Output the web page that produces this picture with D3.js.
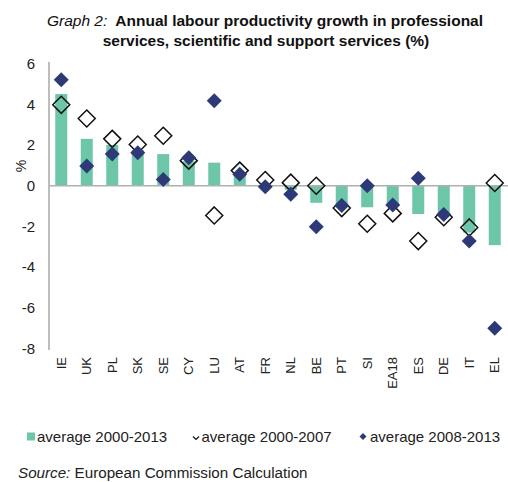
<!DOCTYPE html>
<html><head><meta charset="utf-8">
<script src="https://cdn.jsdelivr.net/npm/d3@7"></script>
<style>body{margin:0;background:#fff;}svg{display:block;font-family:"Liberation Sans",Arial,sans-serif;}</style>
</head><body><svg id="c" width="508" height="482"></svg>
<script>
const categories = ["IE","UK","PL","SK","SE","CY","LU","AT","FR","NL","BE","PT","SI","EA18","ES","DE","IT","EL"];
const avg2000_2013 = [4.5,2.3,2.0,1.75,1.55,1.2,1.13,0.6,0.05,-0.2,-0.84,-1.03,-1.06,-1.0,-1.39,-1.5,-2.3,-2.92];
const avg2000_2007 = [3.97,3.3,2.3,2.02,2.45,1.23,-1.46,0.74,0.28,0.15,0.0,-1.1,-1.87,-1.36,-2.72,-1.55,-2.05,0.13];
const avg2008_2013 = [5.2,0.97,1.55,1.62,0.3,1.37,4.17,0.56,-0.05,-0.42,-2.02,-0.97,0.0,-0.95,0.36,-1.41,-2.72,-7.0];
const yTicks = [6,4,2,0,-2,-4,-6,-8];
const seriesNames = ["average 2000-2013","average 2000-2007","average 2008-2013"];

const svg = d3.select("#c");
const x = d3.scaleBand().domain(categories).range([48.5,507.5]).paddingInner(0.53).paddingOuter(0.265);
const y = d3.scaleLinear().domain([-8,6]).range([348.6,63.5]);
const green = "#6cc6a7", navy = "#2e3a78";

// title
const t = svg.append("text").attr("x",265).attr("y",25.5).attr("text-anchor","middle").style("font-size","15.5px").style("white-space","pre").attr("fill","#111");
t.append("tspan").style("font-style","italic").text("Graph 2:");
t.append("tspan").style("font-weight","bold").text("  Annual labour productivity growth in professional");
svg.append("text").attr("x",266).attr("y",45.5).attr("text-anchor","middle").style("font-size","15.5px").style("font-weight","bold").attr("fill","#111")
  .text("services, scientific and support services (%)");

// y axis
const yAxis = d3.axisLeft(y).tickValues(yTicks).tickSize(0).tickPadding(14).tickFormat(d=>String(d));
const ga = svg.append("g").attr("transform","translate(49,0)").call(yAxis);
ga.select(".domain").attr("stroke","#bdbdbd").attr("stroke-width",2).attr("d","M0,62V350");
ga.selectAll("text").style("font-size","15px").attr("fill","#222").attr("font-family","Liberation Sans, Arial, sans-serif");
svg.append("text").attr("transform","translate(21,166) rotate(-90)").attr("text-anchor","middle").attr("dominant-baseline","central").style("font-size","14px").attr("fill","#222").text("%");

// bars
svg.append("g").selectAll("rect").data(categories).join("rect")
  .attr("x",d=>x(d)).attr("width",x.bandwidth())
  .attr("y",(d,i)=>y(Math.max(0,avg2000_2013[i])))
  .attr("height",(d,i)=>Math.abs(y(avg2000_2013[i])-y(0)))
  .attr("fill",green);

// zero line
svg.append("line").attr("x1",49).attr("x2",508).attr("y1",y(0)).attr("y2",y(0)).attr("stroke","#b0b0b0").attr("stroke-width",1.5);

const cx = d=>x(d)+x.bandwidth()/2;
const diamond = r=>`M0,${-r}L${r},0L0,${r}L${-r},0Z`;
// open diamonds
svg.append("g").selectAll("path").data(categories).join("path")
  .attr("transform",(d,i)=>`translate(${cx(d)},${y(avg2000_2007[i])})`)
  .attr("d",diamond(8.5)).attr("fill","none").attr("stroke","#111").attr("stroke-width",1.5);
// filled diamonds
svg.append("g").selectAll("path").data(categories).join("path")
  .attr("transform",(d,i)=>`translate(${cx(d)},${y(avg2008_2013[i])})`)
  .attr("d",diamond(7.5)).attr("fill",navy);

// x labels
svg.append("g").selectAll("text").data(categories).join("text")
  .attr("transform",d=>`translate(${cx(d)},357) rotate(-90)`)
  .attr("text-anchor","end").attr("dominant-baseline","central")
  .style("font-size","13px").attr("fill","#222").text(d=>d);

// legend
const lg = svg.append("g").style("font-size","15px").attr("fill","#222");
lg.append("rect").attr("x",27).attr("y",432.5).attr("width",8).attr("height",8).attr("fill",green);
lg.append("text").attr("x",37).attr("y",441.7).text(seriesNames[0]);
lg.append("path").attr("d","M193,436.5L196,439.5L199,436.5").attr("fill","none").attr("stroke","#111").attr("stroke-width",1.2);
lg.append("text").attr("x",201.5).attr("y",441.7).text(seriesNames[1]);
lg.append("path").attr("transform","translate(363,436.5)").attr("d",diamond(3.5)).attr("fill",navy);
lg.append("text").attr("x",370).attr("y",441.7).text(seriesNames[2]);

// source
const s = svg.append("text").attr("x",18).attr("y",478).style("font-size","15.2px").attr("fill","#222");
s.append("tspan").style("font-style","italic").text("Source:");
s.append("tspan").text(" European Commission Calculation");
</script></body></html>
